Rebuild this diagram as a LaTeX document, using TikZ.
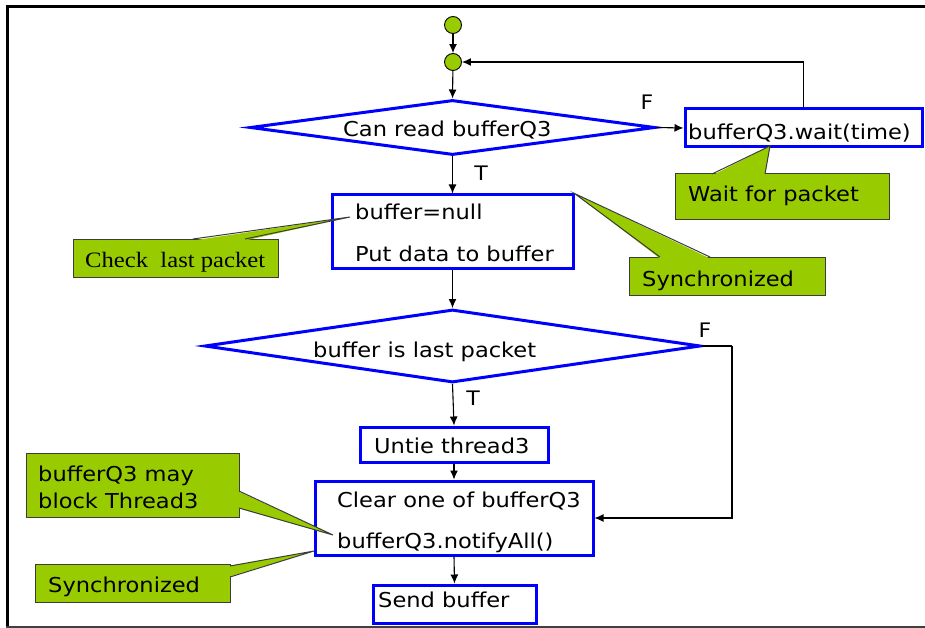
\documentclass[tikz,border=0pt]{standalone}
\usepackage{fontspec}
\setmainfont{DejaVu Sans}[FakeStretch=1.1]
\newfontfamily\calloutserif{Liberation Serif}[FakeStretch=1.12]
\usetikzlibrary{shapes.geometric,arrows.meta,calc}
\definecolor{flowblue}{RGB}{0,0,255}
\definecolor{calloutgreen}{RGB}{153,204,0}
\definecolor{calloutedge}{RGB}{60,60,60}

% filled pointer of a callout: base point, tip, base point, and the
% base points pushed into the callout box so its edge is hidden there
\newcommand\calloutptr[5]{%
  \fill[calloutgreen] #4 -- #2 -- #5 -- cycle;
  \draw[callline] #1 -- #2 -- #3;}

\begin{document}
\begin{tikzpicture}[x=1pt,y=-1pt,
  every node/.style={font=\fontsize{20.5}{24}\selectfont},
  txt/.style={anchor=base west,inner sep=0},
  lbl/.style={inner sep=0,font=\fontsize{20}{24}\selectfont},
  flowbox/.style={draw=flowblue,line width=3pt,fill=white,inner sep=0},
  decision/.style={diamond,draw=flowblue,line width=3pt,fill=white,inner sep=0},
  startdot/.style={circle,draw=black,line width=0.9pt,fill=calloutgreen,inner sep=0,minimum size=17pt},
  callbox/.style={draw=calloutedge,line width=1pt,fill=calloutgreen,inner sep=0},
  callline/.style={draw=calloutedge,line width=1pt,line join=miter},
  conn/.style={draw=black,line width=1.1pt,-{Latex[length=9pt,width=8pt]}},
  plainconn/.style={draw=black,line width=1.1pt}
]
\useasboundingbox (0,0) rectangle (925,628);

% frame
\draw[line width=3pt] (925,7) -- (7,7) -- (7,626);
\draw[line width=2pt,black!75] (6,626.5) -- (925,626.5);

% start markers
\node[startdot] (s1) at (453,25) {};
\node[startdot] (s2) at (453,62) {};

% first decision and the wait branch
\node[decision,minimum width=405pt,minimum height=55pt] (d1) at (452.5,127.5) {};
\node[txt] (d1t) at (343,137) {Can read bufferQ3};
\node[flowbox,minimum width=237pt,minimum height=38pt] (wait) at (803.5,128) {};
\node[txt] (waitt) at (688,140) {bufferQ3.wait(time)};

% read step
\node[flowbox,minimum width=241pt,minimum height=73pt] (rd) at (452.5,231.5) {};
\node[txt] (rd1) at (355,220) {buffer=null};
\node[txt] (rd2) at (355,261) {Put data to buffer};

% second decision
\node[decision,minimum width=496pt,minimum height=73pt] (d2) at (452.5,346) {};
\node[txt] (d2t) at (313,357) {buffer is last packet};
\coordinate (fbend) at (732,346);

% remaining steps
\node[flowbox,minimum width=188pt,minimum height=35pt] (untie) at (454,444.5) {};
\node[txt] (untiet) at (374,453) {Untie thread3};
\node[flowbox,minimum width=278pt,minimum height=74pt] (clr) at (454,518) {};
\node[txt] (clr1) at (337,507) {Clear one of bufferQ3};
\node[txt] (clr2) at (337,548) {bufferQ3.notifyAll()};
\node[flowbox,minimum width=163pt,minimum height=38pt] (send) at (454.5,604) {};
\node[txt] (sendt) at (378,607) {Send buffer};

% connectors
\draw[conn] (s1) -- (s2);
\draw[conn] (s2) -- (d1.north);
\draw[conn] (d1.east) -- (wait.west);
\draw[conn] (wait.north) |- (s2.east);
\draw[conn] (d1.south) -- (rd.north);
\draw[conn] (rd.south) -- (d2.north);
\draw[plainconn] (d2.east) -- (fbend);
\draw[conn] (fbend) |- (clr.east);
\draw[conn] (d2.south) -- (untie.north);
\draw[conn] (untie.south) -- (clr.north);
\draw[conn] (clr.south) -- (send.north);

% branch labels
\node[lbl] (lf1) at (647,102) {F};
\node[lbl] (lt1) at (481,173) {T};
\node[lbl] (lf2) at (705,330) {F};
\node[lbl] (lt2) at (473,398) {T};

% callouts
\node[callbox,minimum width=214pt,minimum height=46pt] (cwait) at (782,197) {};
\node[txt] (cwaitt) at (688,202) {Wait for packet};
\calloutptr{(712,174)}{(770,146)}{(765,174)}{(712,175.5)}{(765,175.5)}

\node[callbox,minimum width=205pt,minimum height=38pt] (clast) at (175.5,258) {};
\node[txt,font=\calloutserif\fontsize{22}{24}\selectfont] (clastt) at (85,267) {Check\ \ last packet};
\calloutptr{(193,239)}{(350,217)}{(245,239)}{(193,240.5)}{(245,240.5)}

\node[callbox,minimum width=196pt,minimum height=38pt] (csync1) at (727,276) {};
\node[txt] (csync1t) at (642,286) {Synchronized};
\calloutptr{(660,257)}{(rd.north east)}{(710,257)}{(660,258.5)}{(710,258.5)}

\node[callbox,minimum width=213pt,minimum height=64pt] (cblock) at (132.5,485) {};
\node[txt] (cblock1) at (38,481) {bufferQ3 may};
\node[txt] (cblock2) at (38,508) {block Thread3};
\calloutptr{(239,491)}{(333,535)}{(239,508)}{(237.5,491)}{(237.5,508)}

\node[callbox,minimum width=195pt,minimum height=38pt] (csync2) at (132.5,583) {};
\node[txt] (csync2t) at (48,592) {Synchronized};
\calloutptr{(230,566)}{(314,551)}{(230,577)}{(228.5,566)}{(228.5,577)}
\end{tikzpicture}
\end{document}
